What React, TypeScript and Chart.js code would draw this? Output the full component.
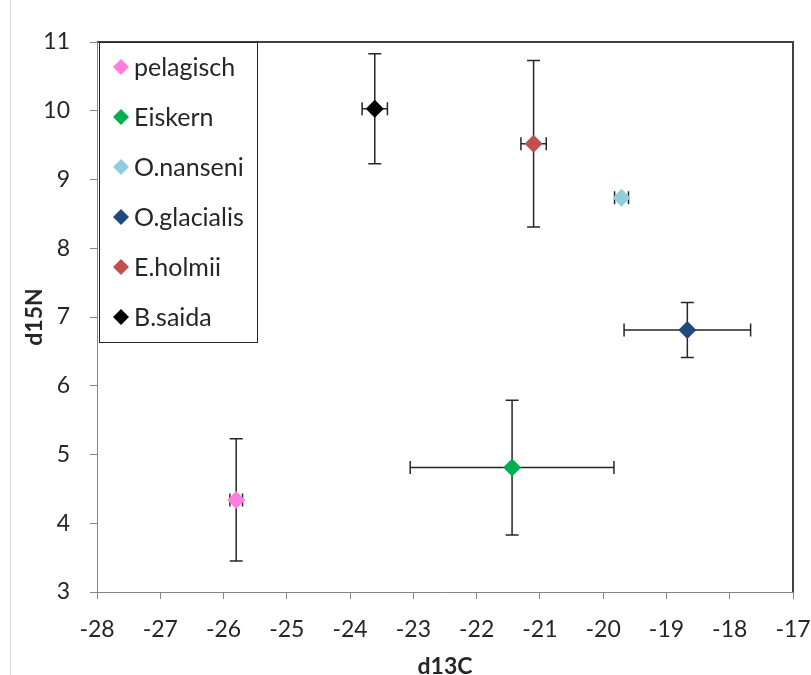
import React, { useEffect, useRef } from "react";
import { Chart, registerables } from "chart.js";

Chart.register(...registerables);

const seriesNames = ["pelagisch", "Eiskern", "O.nanseni", "O.glacialis", "E.holmii", "B.saida"];
const seriesColors = ["#FF7FDF", "#00B050", "#92CDDC", "#1F497D", "#C0504D", "#000000"];
const d13C = [-25.8, -21.44, -19.71, -18.67, -21.1, -23.61];
const d15N = [4.34, 4.81, 8.735, 6.81, 9.52, 10.03];
const d13CErr = [0.1, 1.61, 0.11, 1.0, 0.2, 0.2];
const d15NErr = [0.89, 0.98, 0.02, 0.4, 1.21, 0.8];
const xTitle = "d13C";
const yTitle = "d15N";

const FONT = "Lato, 'Liberation Sans', sans-serif";
const TEXT = "#262626";

const errorBarPlugin = {
  id: "errorBars",
  beforeDatasetsDraw(chart: any) {
    const ctx = chart.ctx;
    const xs = chart.scales.x;
    const ys = chart.scales.y;
    const cap = 6.5;
    ctx.save();
    ctx.strokeStyle = "#262626";
    ctx.lineWidth = 1.5;
    chart.data.datasets.forEach((ds: any) => {
      ds.data.forEach((p: any) => {
        const cx = xs.getPixelForValue(p.x);
        const cy = ys.getPixelForValue(p.y);
        const x1 = xs.getPixelForValue(p.x - p.xErr);
        const x2 = xs.getPixelForValue(p.x + p.xErr);
        const y1 = ys.getPixelForValue(p.y + p.yErr);
        const y2 = ys.getPixelForValue(p.y - p.yErr);
        ctx.beginPath();
        ctx.moveTo(x1, cy); ctx.lineTo(x2, cy);
        ctx.moveTo(x1, cy - cap); ctx.lineTo(x1, cy + cap);
        ctx.moveTo(x2, cy - cap); ctx.lineTo(x2, cy + cap);
        ctx.moveTo(cx, y1); ctx.lineTo(cx, y2);
        ctx.moveTo(cx - cap, y1); ctx.lineTo(cx + cap, y1);
        ctx.moveTo(cx - cap, y2); ctx.lineTo(cx + cap, y2);
        ctx.stroke();
      });
    });
    ctx.restore();
  },
};

const framePlugin = {
  id: "frame",
  beforeDraw(chart: any) {
    const ctx = chart.ctx;
    const a = chart.chartArea;
    ctx.save();
    ctx.fillStyle = "#ffffff";
    ctx.fillRect(0, 0, chart.width, chart.height);
    ctx.strokeStyle = "#D9D9D9";
    ctx.lineWidth = 1;
    ctx.beginPath();
    ctx.moveTo(10.5, 0);
    ctx.lineTo(10.5, chart.height);
    ctx.stroke();
    ctx.strokeStyle = "#404040";
    ctx.lineWidth = 2;
    ctx.beginPath();
    ctx.moveTo(a.left, a.top);
    ctx.lineTo(a.right, a.top);
    ctx.lineTo(a.right, a.bottom);
    ctx.stroke();
    ctx.restore();
  },
};

const legendPlugin = {
  id: "boxLegend",
  afterDraw(chart: any) {
    const ctx = chart.ctx;
    const a = chart.chartArea;
    const left = a.left + 2;
    const top = a.top;
    const w = 158;
    const rowH = 50;
    const h = rowH * chart.data.datasets.length;
    ctx.save();
    ctx.fillStyle = "#ffffff";
    ctx.fillRect(left, top, w, h);
    ctx.strokeStyle = "#262626";
    ctx.lineWidth = 1;
    ctx.strokeRect(left + 0.5, top + 0.5, w, h);
    ctx.font = `25px ${FONT}`;
    ctx.textBaseline = "alphabetic";
    ctx.textAlign = "left";
    chart.data.datasets.forEach((ds: any, i: number) => {
      const cy = top + 25 + i * rowH;
      const mx = left + 22;
      const r = 8;
      ctx.fillStyle = ds.backgroundColor;
      ctx.beginPath();
      ctx.moveTo(mx, cy - r);
      ctx.lineTo(mx + r, cy);
      ctx.lineTo(mx, cy + r);
      ctx.lineTo(mx - r, cy);
      ctx.closePath();
      ctx.fill();
      ctx.fillStyle = TEXT;
      ctx.fillText(ds.label, left + 35, cy + 9);
    });
    ctx.restore();
  },
};

export default function App() {
  const ref = useRef<HTMLCanvasElement | null>(null);
  useEffect(() => {
    document.body.style.margin = "0";
    const canvas = ref.current!;
    const datasets = seriesNames.map((name, i) => ({
      label: name,
      data: [{ x: d13C[i], y: d15N[i], xErr: d13CErr[i], yErr: d15NErr[i] }],
      backgroundColor: seriesColors[i],
      borderColor: seriesColors[i],
      borderWidth: 0,
      pointStyle: "rectRot",
      pointRadius: 9,
      pointHoverRadius: 9,
    }));
    const chart = new Chart(canvas, {
      type: "scatter",
      data: { datasets },
      plugins: [framePlugin, errorBarPlugin, legendPlugin],
      options: {
        responsive: false,
        animation: false,
        layout: { padding: { top: 42, right: 18, left: 0, bottom: 0 } },
        plugins: { legend: { display: false }, tooltip: { enabled: false } },
        scales: {
          x: {
            type: "linear",
            min: -28,
            max: -17,
            afterFit: (s: any) => { s.height = 83; s.paddingLeft = 0; s.paddingRight = 0; },
            ticks: { stepSize: 1, color: TEXT, font: { family: FONT, size: 23 }, padding: 17, maxRotation: 0 },
            grid: { display: true, drawOnChartArea: false, drawTicks: true, tickLength: 7, color: "#868686" },
            border: { display: true, color: "#868686", width: 1 },
            title: { display: true, text: xTitle, color: TEXT, font: { family: FONT, size: 23, weight: "bold", lineHeight: 0.75 }, padding: { top: 0, bottom: 0 } },
          },
          y: {
            type: "linear",
            min: 3,
            max: 11,
            afterFit: (s: any) => { s.width = 97; },
            ticks: { stepSize: 1, color: TEXT, font: { family: FONT, size: 23 }, padding: 20 },
            grid: { display: true, drawOnChartArea: false, drawTicks: true, tickLength: 7, color: "#868686" },
            border: { display: true, color: "#868686", width: 1 },
            title: { display: true, text: yTitle, color: TEXT, font: { family: FONT, size: 23, weight: "bold" }, padding: { top: 21, bottom: 0 } },
          },
        },
      } as any,
    });
    return () => chart.destroy();
  }, []);
  return <canvas ref={ref} width={811} height={675} style={{ display: "block" }} />;
}
